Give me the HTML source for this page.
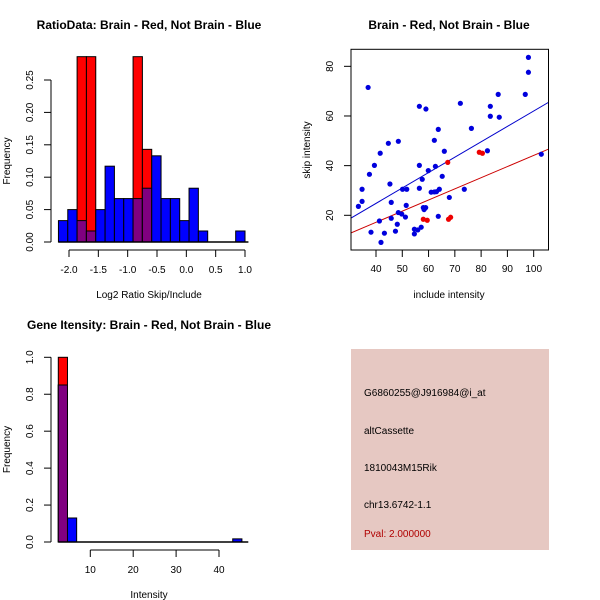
<!DOCTYPE html>
<html><head><meta charset="utf-8"><style>
html,body{margin:0;padding:0;background:#fff;}
svg{display:block;font-family:"Liberation Sans",Arial,sans-serif;}
</style></head><body>
<svg id="s" width="600" height="600" viewBox="0 0 600 600">
<rect x="0" y="0" width="600" height="600" fill="#fff"/>
<g id="p1"></g>
<g id="p2"></g>
<g id="p3"></g>
<g id="p4">
<rect x="351" y="349" width="198" height="201" fill="#e6c8c2"/>
<text x="364" y="396" font-size="10" fill="#000">G6860255@J916984@i_at</text>
<text x="364" y="434" font-size="10" fill="#000">altCassette</text>
<text x="364" y="471" font-size="10" fill="#000">1810043M15Rik</text>
<text x="364" y="508" font-size="10" fill="#000">chr13.6742-1.1</text>
<text x="364" y="537" font-size="10" fill="#b00000">Pval: 2.000000</text>
</g>
</svg>
<script>
// ---- Panel 1 data ----
const ratioBreakStart = -2.18;
const ratioBinWidth = 0.159;
const ratioBlue = [0.033,0.05,0.033,0.017,0.05,0.117,0.067,0.067,0.067,0.083,0.133,0.067,0.067,0.033,0.083,0.017,0,0,0,0.017];
const ratioRed  = [0,0,0.286,0.286,0,0,0,0,0.286,0.143,0,0,0,0,0,0,0,0,0,0];
const ratioXTicks = [-2.0,-1.5,-1.0,-0.5,0.0,0.5,1.0];
const ratioYTicks = [0.00,0.05,0.10,0.15,0.20,0.25];
// ---- Panel 2 data ----
const blueInclude = [33.3,34.7,34.7,37,37.5,38.1,39.4,41.3,41.6,41.9,43.2,44.7,45.3,45.8,45.8,47.4,48.1,48.5,48.5,49.8,50.1,51.2,51.7,51.5,54.6,54.6,55.9,56.5,56.5,56.5,57.2,57.6,58,58.3,58.9,59,59.9,61,62.2,62.2,62.6,63,63.7,63.7,64.1,65.2,66,67.9,72.1,73.6,76.3,82.4,83.5,83.5,86.5,86.9,96.8,98,98,102.9];
const blueSkip = [23.6,25.6,30.5,71.5,36.5,13.2,40.1,17.7,45,9.1,12.8,49,32.6,25.2,18.8,13.6,16.4,49.8,21.1,20.5,30.5,19.3,30.5,24,12.5,14.4,14.1,63.9,40.1,30.9,15.2,34.5,23.1,22.3,23.1,62.8,38,29.3,29.4,50.2,39.7,29.5,54.6,19.6,30.5,35.7,45.8,27.2,65.1,30.5,55,46,59.9,63.9,68.7,59.5,68.7,77.6,83.6,44.6];
const redInclude = [67.3,58,59.5,67.6,68.4,79.3,80.5];
const redSkip = [41.3,18.4,18,18.4,19.2,45.4,45];
const fitSlope = [0.62,0.449];
const fitIntercept = [0.0,-0.78];
const scatterXTicks = [40,50,60,70,80,90,100];
const scatterYTicks = [20,40,60,80];
// ---- Panel 3 data ----
const intBreakStart = 2.54;
const intBinWidth = 2.14;
const intBlue = [0.85,0.13,0,0,0,0,0,0,0,0,0,0,0,0,0,0,0,0,0,0.017];
const intRed  = [1.0,0,0,0,0,0,0,0,0,0,0,0,0,0,0,0,0,0,0,0];
const intXTicks = [10,20,30,40];
const intYTicks = [0.0,0.2,0.4,0.6,0.8,1.0];

const NS='http://www.w3.org/2000/svg';
function mk(parent,tag,attrs,text){const e=document.createElementNS(NS,tag);for(const k in attrs)e.setAttribute(k,attrs[k]);if(text!==undefined)e.textContent=text;parent.appendChild(e);return e;}
function fmt(v,d){return v.toFixed(d);}

function histPanel(g,o){
  const X=v=>o.x0+(v-o.xv0)*o.xs, Y=v=>o.y0-v*o.ys;
  let t=mk(g,'text',{x:149,y:o.ty,'font-size':12,'font-weight':'bold','text-anchor':'middle'},o.title);
  
  
  t=mk(g,'text',{x:149,y:o.xly,'font-size':10,'text-anchor':'middle'},o.xlabel);
  
  
  t=mk(g,'text',{x:0,y:0,'font-size':10,'text-anchor':'middle',transform:`translate(10,${(o.y0+o.yTop)/2}) rotate(-90)`},'Frequency');
  
  
  for(let i=0;i<o.blue.length;i++){
    const l=X(o.bs+i*o.bw), r=X(o.bs+(i+1)*o.bw);
    const b=o.blue[i], rd=o.red[i], m=Math.min(b,rd);
    if(b>0){const e=mk(g,'rect',{x:l,y:Y(b),width:r-l,height:b*o.ys,fill:'#0000ff',stroke:'#000','stroke-width':1});
      
      }
    if(rd>0){const e=mk(g,'rect',{x:l,y:Y(rd),width:r-l,height:rd*o.ys,fill:'#ff0000',stroke:'#000','stroke-width':1});
      
      }
    if(m>0){const e=mk(g,'rect',{x:l,y:Y(m),width:r-l,height:m*o.ys,fill:'#800080',stroke:'#000','stroke-width':1});
      
      }
  }
  const bl=mk(g,'line',{x1:X(o.bs),x2:X(o.bs)+190,y1:o.y0,y2:o.y0,stroke:'#000','stroke-width':1.5});
  
  
  const yt=o.yticks;
  let e=mk(g,'line',{x1:51,x2:51,y1:Y(yt[0]),y2:Y(yt[yt.length-1]),stroke:'#000'});
  
  
  yt.forEach(v=>{mk(g,'line',{x1:44,x2:51,y1:Y(v),y2:Y(v),stroke:'#000'});
    const tt=mk(g,'text',{x:0,y:0,'font-size':10,'text-anchor':'middle',transform:`translate(${33},${Y(v)}) rotate(-90)`},fmt(v,o.yd));
    
    });
  const xt=o.xticks, ay=o.y0+8;
  e=mk(g,'line',{x1:X(xt[0]),x2:X(xt[xt.length-1]),y1:ay,y2:ay,stroke:'#000'});
  
  
  xt.forEach(v=>{mk(g,'line',{x1:X(v),x2:X(v),y1:ay,y2:ay+7,stroke:'#000'});
    const tt=mk(g,'text',{x:X(v),y:ay+23,'font-size':10,'text-anchor':'middle'},fmt(v,o.xd));
    
    });
}

histPanel(document.getElementById('p1'),{x0:69,xv0:-2,xs:58.67,y0:242,ys:648,yTop:80,
  bs:ratioBreakStart,bw:ratioBinWidth,blue:ratioBlue,red:ratioRed,xticks:ratioXTicks,yticks:ratioYTicks,
  xd:1,yd:2,title:'RatioData: Brain - Red, Not Brain - Blue',ty:29,xlabel:'Log2 Ratio Skip/Include',xly:298});
histPanel(document.getElementById('p3'),{x0:90.3,xv0:10,xs:4.29,y0:542,ys:184.7,yTop:357,
  bs:intBreakStart,bw:intBinWidth,blue:intBlue,red:intRed,xticks:intXTicks,yticks:intYTicks,
  xd:0,yd:1,title:'Gene Itensity: Brain - Red, Not Brain - Blue',ty:329,xlabel:'Intensity',xly:598});

(function(){
  const g=document.getElementById('p2');
  const X=v=>376+(v-40)*2.628, Y=v=>215.3-(v-20)*2.483;
  const L=351,R=548.5,T=49.3,B=250;
  let t=mk(g,'text',{x:449,y:29,'font-size':12,'font-weight':'bold','text-anchor':'middle'},'Brain - Red, Not Brain - Blue');
  
  
  t=mk(g,'text',{x:449,y:298,'font-size':10,'text-anchor':'middle'},'include intensity');
  
  
  t=mk(g,'text',{x:0,y:0,'font-size':10,'text-anchor':'middle',transform:`translate(310,150) rotate(-90)`},'skip intensity');
  
  
  mk(g,'clipPath',{id:'cp'}).appendChild(document.createElementNS(NS,'rect'));
  const cr=g.querySelector('#cp rect');cr.setAttribute('x',L);cr.setAttribute('y',T);cr.setAttribute('width',R-L);cr.setAttribute('height',B-T);
  const xmin=30.5,xmax=105.6, cols=['#0000cc','#cc0000'], nm=['fit-line-blue','fit-line-red'];
  fitSlope.forEach((s,i)=>{const e=mk(g,'line',{x1:X(xmin),y1:Y(fitIntercept[i]+s*xmin),x2:X(xmax),y2:Y(fitIntercept[i]+s*xmax),stroke:cols[i],'stroke-width':1,'clip-path':'url(#cp)'});
    
    });
  blueInclude.forEach((v,i)=>{const e=mk(g,'circle',{cx:X(v),cy:Y(blueSkip[i]),r:2.6,fill:'#0000dd'});
    
    });
  redInclude.forEach((v,i)=>{const e=mk(g,'circle',{cx:X(v),cy:Y(redSkip[i]),r:2.6,fill:'#ee0000'});
    
    });
  const bx=mk(g,'rect',{x:L,y:T,width:R-L,height:B-T,fill:'none',stroke:'#000'});
  
  
  scatterXTicks.forEach(v=>{mk(g,'line',{x1:X(v),x2:X(v),y1:B,y2:B+7,stroke:'#000'});
    const tt=mk(g,'text',{x:X(v),y:272,'font-size':10,'text-anchor':'middle'},String(v));
    
    });
  scatterYTicks.forEach(v=>{mk(g,'line',{x1:L-7,x2:L,y1:Y(v),y2:Y(v),stroke:'#000'});
    const tt=mk(g,'text',{x:0,y:0,'font-size':10,'text-anchor':'middle',transform:`translate(333,${Y(v)}) rotate(-90)`},String(v));
    
    });
})();
</script>
</body></html>
